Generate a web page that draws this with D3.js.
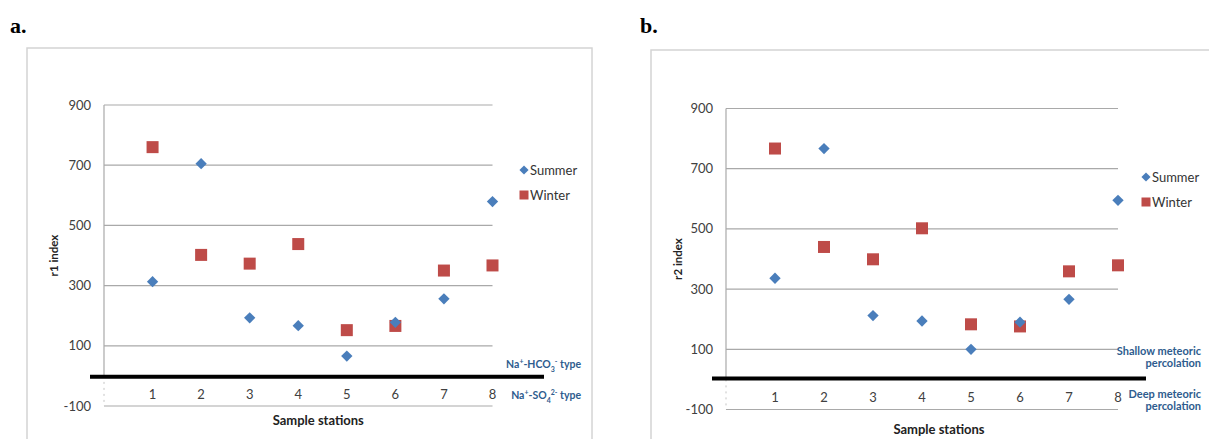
<!DOCTYPE html>
<html>
<head>
<meta charset="utf-8">
<script src="https://cdn.jsdelivr.net/npm/d3@7"></script>
<style>
  body { margin: 0; background: #fff; }
  svg { display: block; }
  text { font-family: Lato, "Open Sans", sans-serif; }
</style>
</head>
<body>
<div id="viz"></div>
<script>
const stations = [1, 2, 3, 4, 5, 6, 7, 8];
const yTicks = [-100, 100, 300, 500, 700, 900];

// panel a: r1 index
const r1Summer = [313, 705, 193, 167, 66, 178, 256, 579];
const r1Winter = [760, 402, 373, 438, 152, 166, 350, 367];

// panel b: r2 index
const r2Summer = [336, 767, 212, 194, 100, 190, 266, 595];
const r2Winter = [767, 440, 399, 502, 183, 176, 359, 379];

const seriesNames = ['Summer', 'Winter'];
const colors = { Summer: '#4a7ebb', Winter: '#be4b48' };
const annoColor = '#2e5c8e';

const svg = d3.select('#viz')
  .append('svg')
  .attr('width', 1209)
  .attr('height', 439);

const drawPanel = (p) => {
  const g = svg.append('g');

  // frame
  g.append('rect')
    .attr('x', p.box[0]).attr('y', p.box[1])
    .attr('width', p.box[2]).attr('height', 460)
    .attr('fill', 'none')
    .attr('stroke', '#d4d4d4')
    .attr('stroke-width', 1.5);

  g.append('text')
    .attr('x', p.tag[0]).attr('y', p.tag[1])
    .style('font-family', '"Liberation Serif", "DejaVu Serif", serif')
    .attr('font-size', '22px')
    .attr('font-weight', 'bold')
    .attr('fill', '#000')
    .text(p.label);

  const x = d3.scaleLinear().domain([0, 8]).range([p.left, p.right]);
  const y = d3.scaleLinear().domain([-100, 900]).range([p.bottom, p.top]);

  // gridlines
  g.selectAll('.grid')
    .data(yTicks)
    .enter().append('line')
    .attr('x1', x(0)).attr('x2', x(8))
    .attr('y1', d => y(d)).attr('y2', d => y(d))
    .attr('stroke', '#a9a9a9')
    .attr('stroke-width', 1.2);

  // left axis
  g.append('line')
    .attr('x1', x(0)).attr('x2', x(0))
    .attr('y1', y(900)).attr('y2', y(0))
    .attr('stroke', '#a9a9a9').attr('stroke-width', 1.2);
  g.append('line')
    .attr('x1', x(0)).attr('x2', x(0))
    .attr('y1', y(0)).attr('y2', y(-100))
    .attr('stroke', '#c4c4c4').attr('stroke-width', 1)
    .attr('stroke-dasharray', '2,4');

  // y tick labels
  g.selectAll('.ylab')
    .data(yTicks)
    .enter().append('text')
    .attr('x', p.yLabX)
    .attr('y', d => y(d) + 4.5)
    .attr('text-anchor', 'end')
    .attr('font-size', '13px')
    .attr('fill', '#404040')
    .text(d => d);

  // x tick labels
  g.selectAll('.xlab')
    .data(stations)
    .enter().append('text')
    .attr('x', d => x(d))
    .attr('y', p.xLabY)
    .attr('text-anchor', 'middle')
    .attr('font-size', '13px')
    .attr('fill', '#404040')
    .text(d => d);

  // thick divider line
  g.append('line')
    .attr('x1', p.divider[0]).attr('x2', p.divider[1])
    .attr('y1', y(p.dividerVal)).attr('y2', y(p.dividerVal))
    .attr('stroke', '#000')
    .attr('stroke-width', 4);

  // axis titles
  g.append('text')
    .attr('transform', `translate(${p.yTitleX},${(y(900) + y(-100)) / 2}) rotate(-90)`)
    .attr('text-anchor', 'middle')
    .attr('font-size', '11.5px')
    .attr('font-weight', 'bold')
    .attr('fill', '#222')
    .text(p.yTitle);

  g.append('text')
    .attr('x', (x(0) + x(8)) / 2 + p.xTitleDx)
    .attr('y', p.xTitleY)
    .attr('text-anchor', 'middle')
    .attr('font-size', '13px')
    .attr('font-weight', 'bold')
    .attr('fill', '#222')
    .text('Sample stations');

  const diamond = d3.symbol(d3.symbolSquare, 64);

  // winter squares first, summer diamonds on top
  g.selectAll('.win')
    .data(p.winter)
    .enter().append('rect')
    .attr('x', (d, i) => x(stations[i]) - 6)
    .attr('y', d => y(d) - 6)
    .attr('width', 12).attr('height', 12)
    .attr('fill', colors.Winter);

  g.selectAll('.sum')
    .data(p.summer)
    .enter().append('path')
    .attr('d', diamond)
    .attr('transform', (d, i) => `translate(${x(stations[i])},${y(d)}) rotate(45)`)
    .attr('fill', colors.Summer);

  // legend
  const leg = g.selectAll('.leg')
    .data(seriesNames)
    .enter().append('g')
    .attr('transform', (d, i) => `translate(${p.legend[0]},${p.legend[1] + i * 25})`);
  leg.filter(d => d === 'Summer').append('path')
    .attr('d', d3.symbol(d3.symbolSquare, 42))
    .attr('transform', 'rotate(45)')
    .attr('fill', colors.Summer);
  leg.filter(d => d === 'Winter').append('rect')
    .attr('x', -4.5).attr('y', -4.5)
    .attr('width', 9).attr('height', 9)
    .attr('fill', colors.Winter);
  leg.append('text')
    .attr('x', 6)
    .attr('y', 4.5)
    .attr('font-size', '13px')
    .attr('fill', '#333')
    .text(d => d);

  p.notes(g);
};

const note = (g, xPos, yPos, parts, size) => {
  const t = g.append('text')
    .attr('x', xPos).attr('y', yPos)
    .attr('text-anchor', 'end')
    .attr('font-size', size)
    .attr('font-weight', 'bold')
    .attr('fill', annoColor);
  parts.forEach(part => {
    t.append('tspan')
      .attr('baseline-shift', part[1] || null)
      .attr('font-size', part[1] ? '7px' : null)
      .text(part[0]);
  });
};

drawPanel({
  label: 'a.', tag: [10, 33],
  box: [27, 48, 565],
  left: 104, right: 492.5, top: 105, bottom: 406,
  yLabX: 91, xLabY: 399,
  divider: [90, 544], dividerVal: -3,
  yTitle: 'r1 index', yTitleX: 58,
  xTitleDx: 20, xTitleY: 425,
  legend: [524, 170],
  summer: r1Summer, winter: r1Winter,
  notes: (g) => {
    note(g, 581, 368, [['Na'], ['+', 'super'], ['-HCO'], ['3', 'sub'], ['-', 'super'], [' type']], '10.5px');
    note(g, 581, 399, [['Na'], ['+', 'super'], ['-SO'], ['4', 'sub'], ['2-', 'super'], [' type']], '10.5px');
  }
});

drawPanel({
  label: 'b.', tag: [640, 33],
  box: [651, 50, 600],
  left: 726, right: 1118, top: 108.5, bottom: 409.5,
  yLabX: 713, xLabY: 402,
  divider: [712, 1146], dividerVal: 3,
  yTitle: 'r2 index', yTitleX: 682,
  xTitleDx: 17, xTitleY: 434,
  legend: [1146, 177],
  summer: r2Summer, winter: r2Winter,
  notes: (g) => {
    note(g, 1201, 355, [['Shallow meteoric']], '11px');
    note(g, 1201, 367, [['percolation']], '11px');
    note(g, 1201, 398, [['Deep meteoric']], '11px');
    note(g, 1201, 410, [['percolation']], '11px');
  }
});
</script>
</body>
</html>
